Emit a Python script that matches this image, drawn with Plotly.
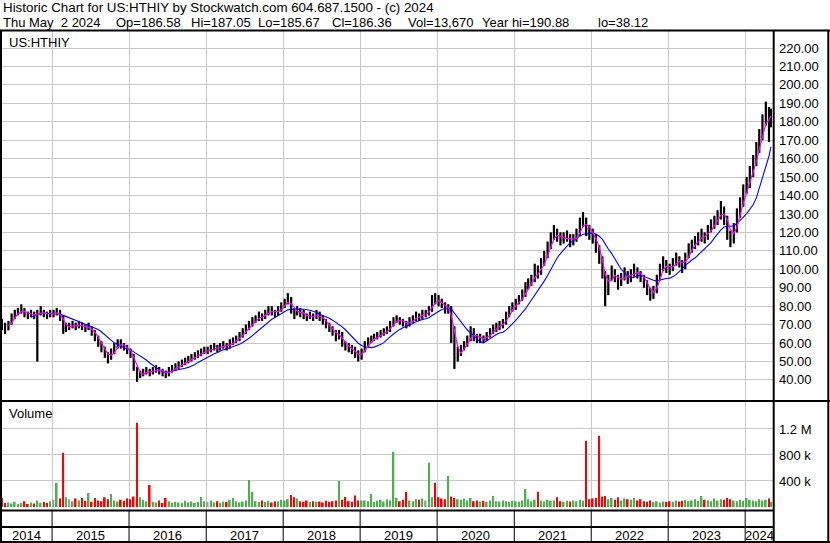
import pandas as pd
import plotly.graph_objects as go

# ---------------- data (semi-monthly) ----------------
first_open = 72

close_2014 = [70, 67, 71, 74, 76, 77, 78, 76, 75, 76, 75, 76, 77, 76, 75, 76]
hi_2014 = [73, 71, 72, 76, 78, 79, 81, 79, 77, 78, 77, 78, 80, 78, 77, 78]
lo_2014 = [67, 65, 67, 70, 73, 75, 76, 74, 73, 74, 73, 50, 75, 74, 73, 74]

close_2015 = [76, 77, 74, 68, 69, 69, 70, 69, 70, 69, 68, 69, 66, 63, 60, 57, 54, 51, 55, 58, 60, 59, 58, 56]
hi_2015 = [78, 79, 78, 75, 71, 71, 72, 71, 72, 71, 70, 71, 69, 67, 64, 61, 58, 55, 57, 60, 62, 62, 60, 59]
lo_2015 = [74, 75, 72, 65, 66, 67, 68, 67, 68, 67, 66, 67, 64, 61, 58, 55, 52, 49, 51, 54, 57, 57, 56, 54]

close_2016 = [54, 47, 42, 43, 44, 45, 44, 45, 46, 45, 44, 43, 45, 46, 47, 48, 49, 50, 51, 52, 53, 54, 55, 56]
hi_2016 = [57, 54, 47, 45, 46, 47, 46, 47, 48, 47, 46, 45, 47, 48, 49, 50, 51, 52, 53, 54, 55, 56, 57, 58]
lo_2016 = [52, 45, 39, 41, 42, 43, 42, 43, 44, 43, 42, 41, 42, 44, 45, 46, 47, 48, 49, 50, 51, 52, 53, 54]

close_2017 = [56, 57, 58, 57, 58, 59, 58, 60, 61, 62, 64, 66, 68, 70, 72, 73, 75, 74, 76, 78, 77, 76, 78, 80]
hi_2017 = [58, 59, 60, 59, 60, 61, 60, 62, 63, 64, 66, 68, 70, 72, 74, 75, 77, 76, 78, 80, 80, 78, 80, 82]
lo_2017 = [54, 55, 56, 55, 56, 57, 56, 57, 59, 60, 61, 63, 65, 67, 69, 71, 72, 72, 73, 75, 75, 74, 75, 77]

close_2018 = [82, 84, 78, 76, 78, 76, 75, 74, 75, 74, 76, 74, 72, 70, 68, 66, 63, 65, 60, 58, 57, 56, 54, 52]
hi_2018 = [84, 87, 85, 79, 80, 79, 78, 76, 77, 76, 78, 77, 75, 73, 71, 69, 67, 67, 66, 61, 60, 59, 58, 56]
lo_2018 = [79, 81, 76, 73, 75, 74, 73, 72, 73, 72, 73, 72, 70, 68, 66, 64, 61, 62, 58, 56, 55, 54, 52, 50]

close_2019 = [56, 59, 61, 62, 63, 64, 65, 66, 67, 70, 72, 73, 72, 71, 70, 72, 73, 75, 74, 76, 76, 78, 84, 83]
hi_2019 = [57, 61, 63, 64, 65, 66, 67, 68, 69, 72, 74, 75, 74, 73, 72, 74, 75, 77, 76, 78, 78, 80, 86, 87]
lo_2019 = [51, 55, 58, 60, 61, 62, 63, 64, 65, 66, 69, 71, 70, 69, 68, 69, 71, 72, 72, 73, 74, 75, 77, 81]

close_2020 = [82, 81, 78, 79, 68, 52, 54, 57, 59, 62, 66, 64, 62, 63, 62, 64, 66, 68, 69, 70, 71, 75, 78, 80]
hi_2020 = [86, 84, 82, 81, 80, 69, 58, 59, 61, 64, 69, 68, 65, 65, 64, 66, 68, 70, 71, 72, 73, 77, 80, 82]
lo_2020 = [80, 79, 76, 76, 60, 46, 50, 53, 56, 58, 61, 61, 60, 60, 60, 61, 63, 65, 66, 67, 68, 70, 74, 77]

close_2021 = [82, 84, 86, 90, 92, 94, 100, 98, 103, 107, 112, 117, 120, 118, 116, 117, 118, 115, 116, 119, 124, 127, 122, 120]
hi_2021 = [84, 86, 89, 93, 95, 97, 103, 102, 106, 110, 115, 120, 124, 122, 120, 120, 121, 119, 119, 122, 128, 131, 128, 124]
lo_2021 = [78, 81, 83, 85, 89, 91, 93, 95, 97, 102, 106, 111, 116, 115, 113, 114, 115, 112, 113, 115, 118, 123, 118, 116]

close_2022 = [118, 112, 106, 98, 88, 95, 99, 96, 92, 96, 98, 95, 97, 100, 98, 96, 93, 89, 86, 88, 95, 100, 104, 101]
hi_2022 = [122, 119, 113, 107, 99, 97, 102, 100, 97, 98, 101, 99, 100, 103, 101, 99, 97, 94, 90, 91, 97, 103, 107, 105]
lo_2022 = [114, 109, 103, 95, 80, 86, 94, 93, 89, 91, 94, 92, 93, 96, 95, 93, 90, 86, 83, 84, 87, 94, 99, 98]

close_2023 = [100, 103, 106, 104, 101, 107, 111, 113, 115, 117, 119, 117, 121, 124, 126, 129, 133, 128, 120, 116, 122, 130, 136, 142]
hi_2023 = [103, 106, 109, 107, 105, 109, 114, 116, 118, 120, 122, 120, 124, 127, 129, 132, 137, 134, 129, 121, 125, 133, 139, 146]
lo_2023 = [97, 99, 102, 101, 98, 100, 106, 109, 111, 113, 115, 114, 116, 120, 122, 124, 127, 124, 116, 112, 114, 120, 128, 134]

close_2024 = [146, 152, 158, 165, 172, 180, 185, 178, 186.36]
hi_2024 = [150, 156, 162, 169, 176, 184, 190.88, 188, 187.05]
lo_2024 = [141, 144, 150, 156, 163, 170, 178, 169, 177]

# volume, thousands of shares (tallest daily bar in each half-month)
vol_2014 = [140, 60, 70, 55, 80, 50, 60, 90, 45, 70, 55, 100, 65, 75, 60, 90]
vol_2015 = [110, 374, 130, 835, 150, 120, 90, 130, 100, 140, 95, 215, 80, 140, 100, 90, 150, 120, 200, 100, 85, 110, 95, 130]
vol_2016 = [120, 160, 1297, 150, 110, 90, 338, 80, 70, 100, 60, 140, 90, 65, 80, 70, 60, 95, 70, 85, 60, 75, 155, 90]
vol_2017 = [80, 100, 70, 90, 60, 85, 75, 110, 140, 90, 70, 85, 100, 415, 230, 90, 75, 100, 80, 95, 70, 85, 90, 110]
vol_2018 = [100, 120, 185, 150, 130, 90, 80, 100, 75, 90, 80, 85, 70, 95, 80, 90, 100, 400, 110, 155, 90, 80, 175, 100]
vol_2019 = [100, 100, 90, 200, 80, 95, 110, 85, 120, 100, 851, 140, 90, 110, 230, 100, 90, 120, 110, 130, 100, 682, 150, 374]
vol_2020 = [150, 130, 120, 477, 160, 140, 120, 110, 130, 100, 140, 90, 100, 85, 95, 80, 100, 170, 90, 85, 100, 90, 80, 95]
vol_2021 = [90, 80, 100, 277, 120, 90, 110, 235, 100, 85, 110, 95, 100, 150, 90, 80, 95, 85, 100, 90, 110, 95, 1020, 120]
vol_2022 = [130, 140, 1097, 160, 170, 120, 140, 110, 150, 100, 130, 120, 110, 140, 100, 120, 90, 80, 100, 75, 90, 70, 85, 80]
vol_2023 = [90, 80, 100, 85, 95, 110, 90, 100, 120, 95, 170, 110, 100, 90, 130, 100, 120, 110, 140, 120, 100, 90, 110, 95]
vol_2024 = [140, 110, 100, 90, 120, 100, 110, 130, 80]

price_ticks = [40, 50, 60, 70, 80, 90, 100, 110, 120, 130, 140, 150, 160, 170, 180, 190, 200, 210, 220]
vol_ticks = [400000, 800000, 1200000]
vol_tick_text = ["400 k", "800 k", "1.2 M"]
years = [2014, 2015, 2016, 2017, 2018, 2019, 2020, 2021, 2022, 2023, 2024]

header_1 = "Historic Chart for US:HTHIY by Stockwatch.com 604.687.1500 - (c) 2024"
header_2 = ["Thu May  2 2024", "Op=186.58", "Hi=187.05", "Lo=185.67", "Cl=186.36",
            "Vol=13,670", "Year hi=190.88", "lo=38.12"]

# ---------------- assemble ----------------
closes = close_2014 + close_2015 + close_2016 + close_2017 + close_2018 + close_2019 + \
    close_2020 + close_2021 + close_2022 + close_2023 + close_2024
highs = hi_2014 + hi_2015 + hi_2016 + hi_2017 + hi_2018 + hi_2019 + hi_2020 + \
    hi_2021 + hi_2022 + hi_2023 + hi_2024
lows = lo_2014 + lo_2015 + lo_2016 + lo_2017 + lo_2018 + lo_2019 + lo_2020 + \
    lo_2021 + lo_2022 + lo_2023 + lo_2024
vols_k = vol_2014 + vol_2015 + vol_2016 + vol_2017 + vol_2018 + vol_2019 + vol_2020 + \
    vol_2021 + vol_2022 + vol_2023 + vol_2024
vols = [v * 1000 for v in vols_k]
opens = [first_open] + closes[:-1]

months = pd.date_range("2014-05-01", "2024-04-01", freq="MS")
dates = []
for m in months:
    dates.append(m + pd.Timedelta(days=7))
    dates.append(m + pd.Timedelta(days=22))
dates.append(pd.Timestamp("2024-05-02"))

cs = pd.Series(closes)
ma_short = cs.rolling(3).mean()
ma_long = cs.rolling(10).mean()

vol_colors = []
for o, c in zip(opens, closes):
    if c > o:
        vol_colors.append("#4cb04c")
    elif c < o:
        vol_colors.append("#ff0000")
    else:
        vol_colors.append("#a0a0a0")

x_start = pd.Timestamp("2014-04-29")
x_end = pd.Timestamp("2024-05-12")
year_starts = [pd.Timestamp(f"{y}-01-01") for y in years[1:]]

W, H = 830, 543
FONT = "Liberation Sans, Arial, sans-serif"


def fx(px):
    return px / W


def fy(py):
    return 1 - py / H


fig = go.Figure()

# red open/close ticks
fig.add_trace(go.Ohlc(
    x=dates, open=opens, high=highs, low=lows, close=closes,
    increasing=dict(line=dict(color="#ff0000", width=1)),
    decreasing=dict(line=dict(color="#ff0000", width=1)),
    tickwidth=0.5, xaxis="x", yaxis="y", hoverinfo="skip"))

# black high-low bars
seg_x, seg_y = [], []
for d, h, l in zip(dates, highs, lows):
    seg_x += [d, d, None]
    seg_y += [l, h, None]
fig.add_trace(go.Scatter(x=seg_x, y=seg_y, mode="lines",
                         line=dict(color="black", width=2.2),
                         xaxis="x", yaxis="y", hoverinfo="skip"))

fig.add_trace(go.Scatter(x=dates, y=ma_long, mode="lines",
                         line=dict(color="#0000ff", width=1.1),
                         xaxis="x", yaxis="y", hoverinfo="skip"))
fig.add_trace(go.Scatter(x=dates, y=ma_short, mode="lines",
                         line=dict(color="#ff00ff", width=1.2),
                         xaxis="x", yaxis="y", hoverinfo="skip"))

fig.add_trace(go.Bar(x=dates, y=vols, marker=dict(color=vol_colors, line=dict(width=0)),
                     width=8 * 86400000, xaxis="x2", yaxis="y2", hoverinfo="skip"))

grid = "#c8c8c8"
tickfont = dict(family=FONT, size=13, color="black")

fig.update_layout(
    width=W, height=H, margin=dict(l=0, r=0, t=0, b=0),
    paper_bgcolor="white", plot_bgcolor="white", showlegend=False,
    xaxis=dict(domain=[0, fx(773)], range=[x_start, x_end], type="date",
               tickvals=year_starts, showticklabels=False, ticks="",
               showgrid=True, gridcolor=grid, gridwidth=1, zeroline=False,
               showline=False, rangeslider=dict(visible=False), anchor="y"),
    xaxis2=dict(domain=[0, fx(773)], range=[x_start, x_end], type="date",
                matches="x", tickvals=year_starts, showticklabels=False, ticks="",
                showgrid=True, gridcolor=grid, gridwidth=1, zeroline=False,
                showline=False, anchor="y2"),
    yaxis=dict(domain=[fy(400), fy(31)], range=[29.11, 229.22], side="right",
               tickvals=price_ticks, tickformat=".2f", ticks="",
               ticklabelstandoff=5, tickfont=tickfont,
               showgrid=True, gridcolor=grid, gridwidth=1, zeroline=False,
               showline=False, anchor="x"),
    yaxis2=dict(domain=[fy(509.5), fy(402)], range=[-38500, 1615000], side="right",
                tickvals=vol_ticks, ticktext=vol_tick_text, ticks="",
                ticklabelstandoff=5, tickfont=tickfont,
                showgrid=True, gridcolor=grid, gridwidth=1, zeroline=False,
                showline=False, anchor="x2"),
)

shapes = []


def hline(py, x0, x1, w=2):
    shapes.append(dict(type="line", xref="paper", yref="paper",
                       x0=fx(x0), x1=fx(x1), y0=fy(py), y1=fy(py),
                       line=dict(color="black", width=w)))


def vline(px, y0, y1, w=2):
    shapes.append(dict(type="line", xref="paper", yref="paper",
                       x0=fx(px), x1=fx(px), y0=fy(y0), y1=fy(y1),
                       line=dict(color="black", width=w)))


hline(30.5, 0, 830)
hline(401, 0, 830)
hline(510.5, 0, 774)
hline(527, 0, 774)
hline(542, 0, 830)
vline(1, 30, 543)
vline(773.7, 30, 543)
vline(828.3, 30, 543)
for ys in year_starts:
    shapes.append(dict(type="line", xref="x", yref="paper", x0=ys, x1=ys,
                       y0=fy(542), y1=fy(510.5), line=dict(color="black", width=1)))
fig.update_layout(shapes=shapes)

annotations = []


def label(text, px, py, anchor="left", xref="paper", xval=None, size=13):
    annotations.append(dict(
        text=text, xref=xref, yref="paper",
        x=fx(px) if xval is None else xval, y=fy(py),
        xanchor=anchor, yanchor="middle", showarrow=False, borderpad=0,
        font=dict(family=FONT, size=size, color="black")))


label(header_1, 2, 8, size=13.35)
h2_x = [2, 115, 190, 257, 331, 407, 481, 597]
for t, px in zip(header_2, h2_x):
    label(t, px, 22)
label("US:HTHIY", 7.5, 42)
label("Volume", 8, 413.5)

bounds = [x_start] + year_starts + [x_end]
for i, y in enumerate(years):
    mid = bounds[i] + (bounds[i + 1] - bounds[i]) / 2
    label(str(y), 0, 535, anchor="center", xref="x", xval=mid)

fig.update_layout(annotations=annotations)

fig.write_html("out.html", config={"displayModeBar": False},
               post_script="document.body.style.margin='0';document.body.style.padding='0';")
